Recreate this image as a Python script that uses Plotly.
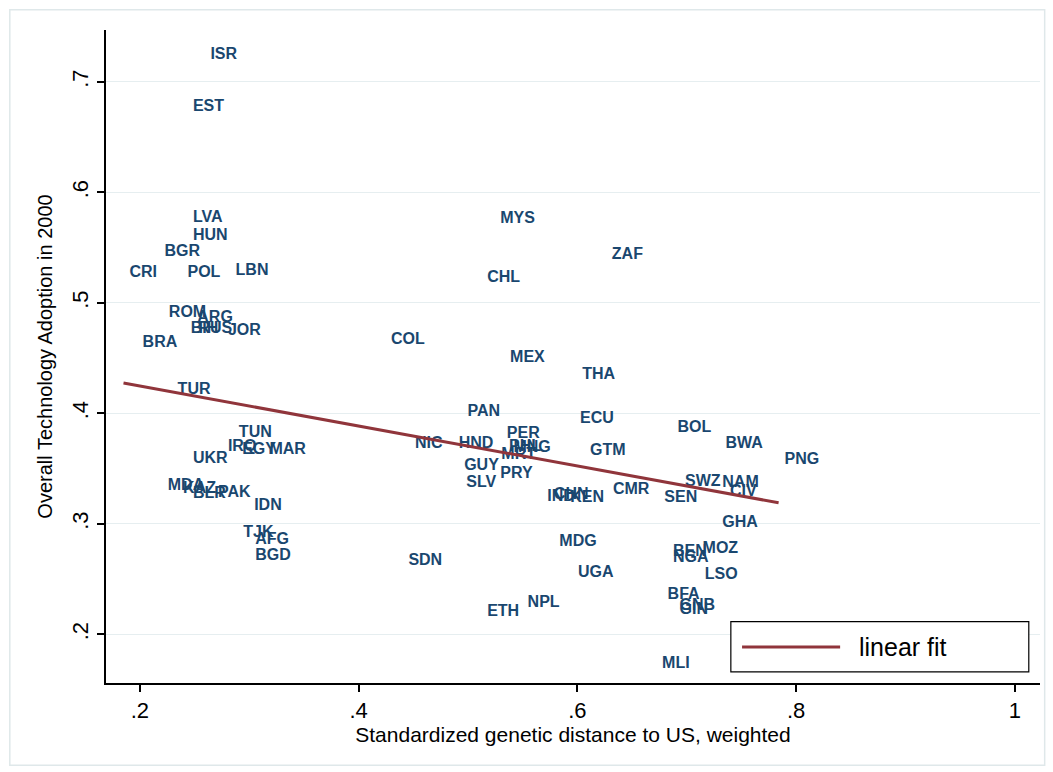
import numpy as np
import plotly.graph_objects as go

# Country codes, standardized genetic distance to the US, and technology adoption in 2000
countries = ["ISR", "EST", "LVA", "HUN", "BGR", "CRI", "POL", "LBN", "ROM", "ARG",
             "BIH", "RUS", "JOR", "BRA", "TUR", "COL", "MYS", "CHL", "ZAF", "MEX",
             "THA", "PAN", "ECU", "BOL", "BWA", "PNG", "TUN", "IRQ", "EGY", "MAR",
             "UKR", "MDA", "KAZ", "BLR", "PAK", "IDN", "TJK", "AFG", "BGD", "SDN",
             "NIC", "HND", "PER", "PHL", "MNG", "MRT", "GTM", "GUY", "SLV", "PRY",
             "IND", "CHN", "KEN", "CMR", "SEN", "SWZ", "NAM", "CIV", "GHA", "MDG",
             "UGA", "NPL", "ETH", "BEN", "NGA", "MOZ", "LSO", "BFA", "GNB", "GIN",
             "MLI"]
gen_dist = [0.259, 0.243, 0.243, 0.243, 0.217, 0.185, 0.238, 0.282, 0.221, 0.247,
            0.241, 0.248, 0.275, 0.197, 0.229, 0.424, 0.524, 0.512, 0.626, 0.533,
            0.599, 0.494, 0.597, 0.686, 0.730, 0.784, 0.285, 0.275, 0.288, 0.313,
            0.243, 0.220, 0.234, 0.243, 0.266, 0.299, 0.289, 0.300, 0.300, 0.440,
            0.446, 0.486, 0.530, 0.532, 0.536, 0.525, 0.606, 0.491, 0.493, 0.524,
            0.567, 0.573, 0.588, 0.627, 0.674, 0.693, 0.727, 0.734, 0.727, 0.578,
            0.595, 0.549, 0.512, 0.682, 0.682, 0.709, 0.711, 0.677, 0.688, 0.688,
            0.672]
tech_adopt = [0.724, 0.677, 0.577, 0.561, 0.546, 0.527, 0.527, 0.529, 0.491, 0.486,
              0.476, 0.476, 0.475, 0.464, 0.421, 0.466, 0.576, 0.523, 0.543, 0.450,
              0.435, 0.401, 0.395, 0.387, 0.372, 0.358, 0.382, 0.370, 0.367, 0.367,
              0.359, 0.334, 0.332, 0.327, 0.328, 0.316, 0.292, 0.285, 0.271, 0.266,
              0.372, 0.372, 0.381, 0.370, 0.369, 0.362, 0.366, 0.352, 0.337, 0.345,
              0.324, 0.326, 0.323, 0.331, 0.323, 0.338, 0.337, 0.329, 0.301, 0.284,
              0.256, 0.228, 0.220, 0.275, 0.269, 0.277, 0.254, 0.236, 0.226, 0.222,
              0.173]

# Estimated linear fit (intercept, slope) of adoption on genetic distance
fit_intercept = 0.461
fit_slope = -0.181

x_ticks = [0.2, 0.4, 0.6, 0.8, 1.0]
x_tick_labels = [".2", ".4", ".6", ".8", "1"]
y_ticks = [0.2, 0.3, 0.4, 0.5, 0.6, 0.7]
y_tick_labels = [".2", ".3", ".4", ".5", ".6", ".7"]

label_color = "#1a476f"
fit_color = "#90353b"
font_family = "Liberation Sans, Arial, sans-serif"

# fitted line spans the observed range of genetic distance
xs = np.array(gen_dist)
fit_x = np.array([xs.min(), xs.max()])
fit_y = fit_intercept + fit_slope * fit_x

fig = go.Figure()
fig.add_trace(go.Scatter(
    x=gen_dist, y=tech_adopt, text=countries, mode="markers+text",
    marker=dict(size=8, color="rgba(0,0,0,0)"),
    textposition="middle right",
    textfont=dict(family=font_family, size=16, color=label_color, weight="bold"),
    showlegend=False, hoverinfo="text",
))
fig.add_trace(go.Scatter(
    x=fit_x, y=fit_y, mode="lines", name="linear fit",
    line=dict(color=fit_color, width=3), showlegend=False,
))

# legend box in the lower-right corner of the plot region
fig.add_shape(type="rect", xref="paper", yref="paper",
              x0=0.669, x1=0.988, y0=0.017, y1=0.094,
              line=dict(color="black", width=1.2), fillcolor="white", layer="above")
fig.add_shape(type="line", xref="paper", yref="paper",
              x0=0.681, x1=0.786, y0=0.055, y1=0.055,
              line=dict(color=fit_color, width=3), layer="above")
fig.add_annotation(xref="paper", yref="paper", x=0.804, y=0.055,
                   text="linear fit", showarrow=False, xanchor="left", yanchor="middle",
                   font=dict(family=font_family, size=25, color="black"))

# outer graph-region frame
fig.add_shape(type="rect", xref="paper", yref="paper",
              x0=-0.103, x1=1.005, y0=-0.126, y1=1.031,
              line=dict(color="#dfe8ea", width=1.5), layer="below")

axis_font = dict(family=font_family, size=22, color="black")

fig.update_layout(
    width=1053, height=772,
    margin=dict(l=106, r=13, t=30, b=89),
    paper_bgcolor="white", plot_bgcolor="white",
    xaxis=dict(
        range=[0.169, 1.023], tickvals=x_ticks, ticktext=x_tick_labels,
        showgrid=False, zeroline=False,
        showline=True, linecolor="black", linewidth=1.5,
        ticks="outside", ticklen=7, tickwidth=1.5, tickcolor="black",
        tickfont=axis_font,
        title=dict(text="Standardized genetic distance to US, weighted",
                   font=dict(family=font_family, size=21, color="black"), standoff=3),
    ),
    yaxis=dict(
        range=[0.156, 0.747], tickvals=y_ticks, ticktext=y_tick_labels,
        showgrid=True, gridcolor="#e6eef0", gridwidth=1, zeroline=False,
        showline=True, linecolor="black", linewidth=1.5,
        ticks="outside", ticklen=7, tickwidth=1.5, tickcolor="black",
        tickangle=-90, tickfont=axis_font,
        title=dict(text="Overall Technology Adoption in 2000",
                   font=dict(family=font_family, size=20, color="black"), standoff=10),
    ),
)

fig.write_html("out.html")
